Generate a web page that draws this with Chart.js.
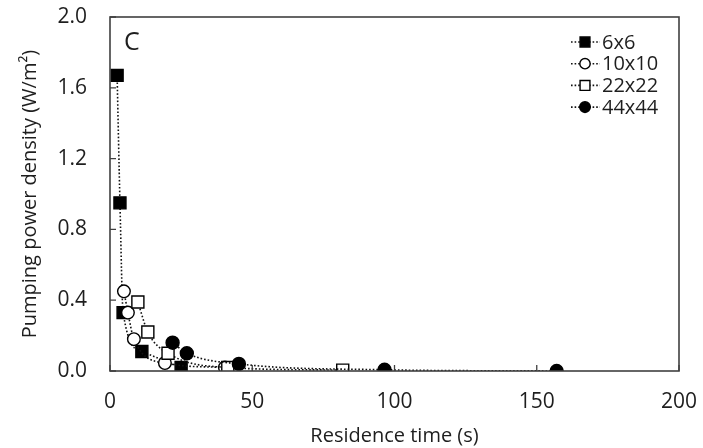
<!DOCTYPE html>
<html>
<head>
<meta charset="utf-8">
<script src="https://cdn.jsdelivr.net/npm/chart.js@4"></script>
<style>
  html, body { margin: 0; padding: 0; background: #fff; }
  #wrap { width: 703px; height: 448px; }
</style>
</head>
<body>
<div id="wrap"><canvas id="chart" width="703" height="448"></canvas></div>
<script>
// residence time (s) vs pumping power density (W/m2), per channel size
const seriesNames = ['6x6', '10x10', '22x22', '44x44'];
const time6 = [2.5, 3.5, 4.6, 11.2, 25];
const power6 = [1.67, 0.95, 0.33, 0.11, 0.02];
const time10 = [4.9, 6.3, 8.4, 19.3, 40.4];
const power10 = [0.45, 0.33, 0.18, 0.045, 0.02];
const time22 = [9.8, 13.3, 20.4, 41.4, 81.8];
const power22 = [0.39, 0.22, 0.10, 0.02, 0.005];
const time44 = [22, 27, 45.3, 96.5, 157];
const power44 = [0.16, 0.10, 0.04, 0.007, 0.0];
const xTicks = [0, 50, 100, 150, 200];
const yTicks = [0, 0.4, 0.8, 1.2, 1.6, 2.0];

const FONT = '"Open Sans", "DejaVu Sans", sans-serif';
const AXIS = '#404040';
const TXT = '#1e1e1e';

function pts(xs, ys) {
  return xs.map((x, i) => ({ x: x, y: ys[i] }));
}

const markers = [
  { style: 'rect', fill: '#000', radius: 8.5 },
  { style: 'circle', fill: '#fff', radius: 6.3 },
  { style: 'rect', fill: '#fff', radius: 8.5 },
  { style: 'circle', fill: '#000', radius: 6.5 },
];

const raw = [[time6, power6], [time10, power10], [time22, power22], [time44, power44]];
const datasets = raw.map((r, i) => ({
  label: seriesNames[i],
  data: pts(r[0], r[1]),
  showLine: true,
  borderColor: '#111',
  borderWidth: 1.6,
  borderDash: [1.6, 2],
  cubicInterpolationMode: 'monotone',
  pointStyle: markers[i].style,
  pointRadius: markers[i].radius,
  pointBackgroundColor: markers[i].fill,
  pointBorderColor: '#000',
  pointBorderWidth: 1.4,
  fill: false,
  order: 4 - i
}));

// box, inward tick marks, panel letter and legend
const decor = {
  id: 'decor',
  afterDatasetsDraw(chart) {
    const { ctx, chartArea: a, scales } = chart;
    ctx.save();
    ctx.strokeStyle = AXIS;
    ctx.lineWidth = 1.6;
    ctx.strokeRect(a.left, a.top, a.right - a.left, a.bottom - a.top);
    ctx.lineWidth = 1.3;
    ctx.beginPath();
    yTicks.forEach(v => {
      const y = scales.y.getPixelForValue(v);
      ctx.moveTo(a.left, y); ctx.lineTo(a.left + 6, y);
    });
    xTicks.forEach(v => {
      const x = scales.x.getPixelForValue(v);
      ctx.moveTo(x, a.bottom); ctx.lineTo(x, a.bottom - 6);
    });
    ctx.stroke();

    ctx.fillStyle = TXT;
    ctx.font = '25px ' + FONT;
    ctx.textBaseline = 'alphabetic';
    ctx.fillText('C', a.left + 14, a.top + 33);

    // legend
    ctx.font = '20px ' + FONT;
    ctx.textBaseline = 'middle';
    seriesNames.forEach((name, i) => {
      const y = 42 + i * 21.7;
      const mx = 585;
      ctx.strokeStyle = '#111';
      ctx.lineWidth = 1.6;
      ctx.setLineDash([1.6, 2]);
      ctx.beginPath();
      ctx.moveTo(571, y); ctx.lineTo(600, y);
      ctx.stroke();
      ctx.setLineDash([]);
      ctx.fillStyle = markers[i].fill;
      ctx.strokeStyle = '#000';
      ctx.lineWidth = 1.4;
      Chart.helpers.drawPoint(ctx, {
        pointStyle: markers[i].style,
        radius: markers[i].radius * 0.82,
        rotation: 0,
        borderWidth: 1.4
      }, mx, y);
      ctx.fillStyle = TXT;
      ctx.fillText(name, 602, y + 1);
    });
    ctx.restore();
  }
};

new Chart(document.getElementById('chart'), {
  type: 'scatter',
  data: { datasets: datasets },
  plugins: [decor],
  options: {
    responsive: false,
    animation: false,
    layout: { padding: { top: 17, right: 24, left: 14, bottom: 0 } },
    plugins: { legend: { display: false }, tooltip: { enabled: false } },
    scales: {
      x: {
        type: 'linear',
        min: 0, max: 200,
        afterBuildTicks: s => { s.ticks = xTicks.map(v => ({ value: v })); },
        afterFit: s => { s.height = 77; s.paddingLeft = 0; s.paddingRight = 0; },
        grid: { display: false, drawTicks: false },
        border: { display: false },
        ticks: { color: TXT, font: { family: FONT, size: 21 }, padding: 18, maxRotation: 0 },
        title: { display: true, text: 'Residence time (s)', color: TXT, font: { family: FONT, size: 20 }, padding: { top: 4, bottom: 0 } }
      },
      y: {
        type: 'linear',
        min: 0, max: 2.0,
        afterBuildTicks: s => { s.ticks = yTicks.map(v => ({ value: v })); },
        afterFit: s => { s.width = 96; s.paddingTop = 0; s.paddingBottom = 0; },
        grid: { display: false, drawTicks: false },
        border: { display: false },
        ticks: { color: TXT, font: { family: FONT, size: 21 }, padding: 23, callback: v => v.toFixed(1) },
        title: { display: true, text: 'Pumping power density (W/m²)', color: TXT, font: { family: FONT, size: 20 }, padding: { bottom: 0 } }
      }
    }
  }
});
</script>
</body>
</html>
